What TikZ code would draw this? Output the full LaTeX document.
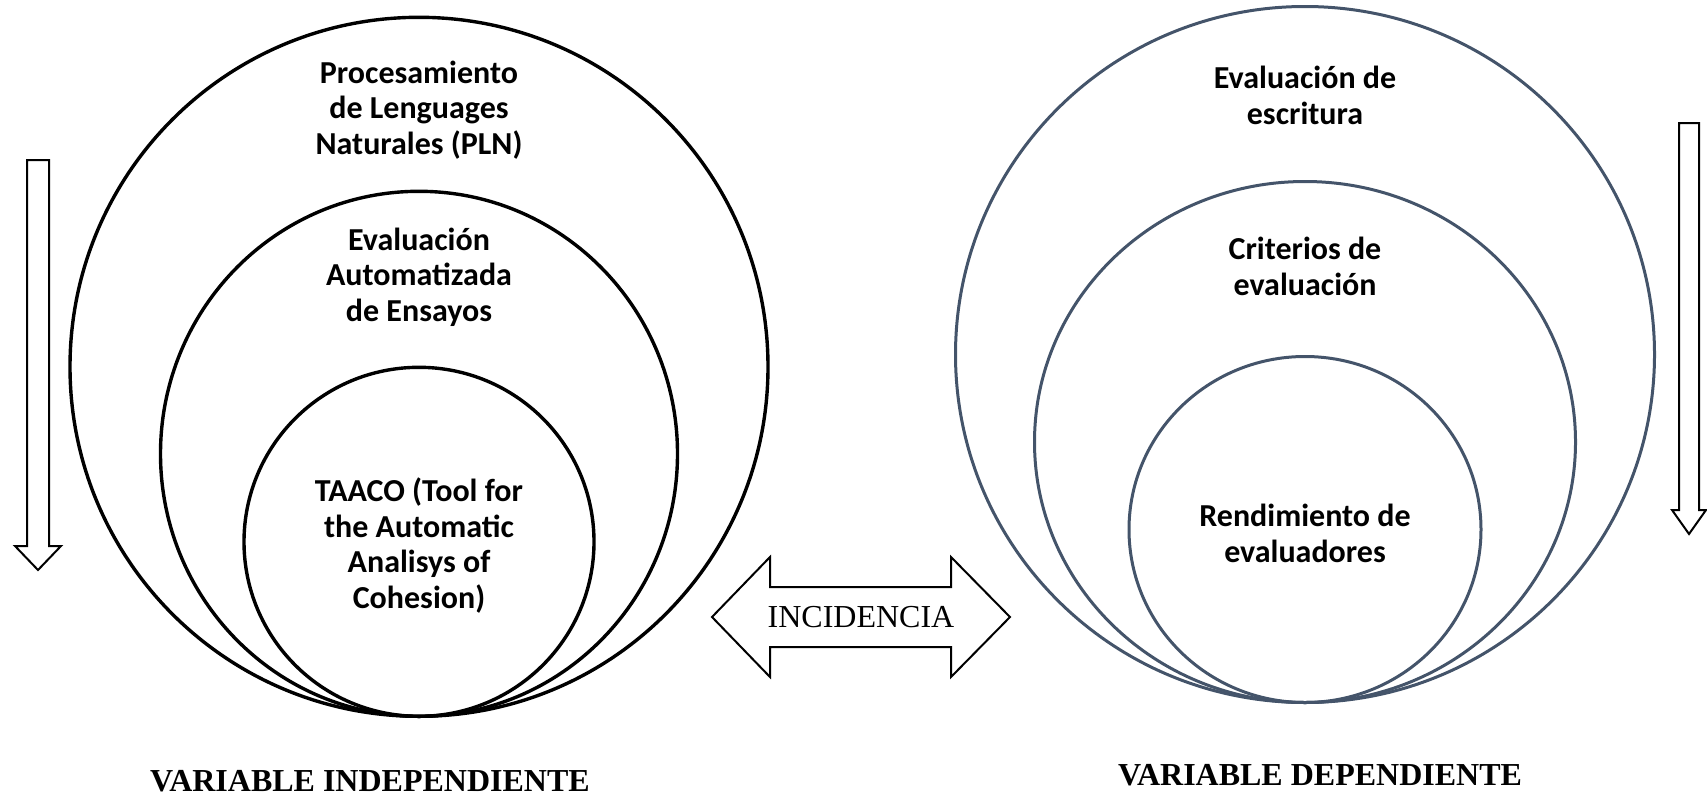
\documentclass[tikz,border=0pt]{standalone}
\usepackage{fontspec}
\setmainfont{Liberation Serif}
\newfontfamily\carlito{Carlito}
\usepackage{tikz}
\usetikzlibrary{shapes.geometric,positioning}
\usepackage{xcolor}
\definecolor{slategray}{RGB}{68,84,106}
\tikzset{
    ring/.style={ellipse, draw=#1, line width=3.4pt, inner sep=0pt, anchor=south},
    ringtxt/.style={font=\carlito\bfseries\fontsize{32}{35.5}\selectfont, align=center,
                    inner sep=0pt},
    vartxt/.style={font=\bfseries\fontsize{32}{36}\selectfont, inner sep=0pt},
    hollow/.style={draw, line width=2pt, fill=white, line join=miter},
}

\begin{document}
\begin{tikzpicture}[x=1pt, y=-1pt]
    \useasboundingbox (0,0) rectangle (1707,795);

    % variable independiente
    \coordinate (lbase) at (419,718);
    \node[ring=black, minimum width=698pt, minimum height=699pt] (louter) at (lbase) {};
    \node[ring=black, minimum width=517pt, minimum height=525pt] (lmid)   at (lbase) {};
    \node[ring=black, minimum width=350pt, minimum height=349pt] (linner) at (lbase) {};
    \node[ringtxt, below=45pt of louter.north]  (pln)   {Procesamiento\\de Lenguages\\Naturales (PLN)};
    \node[ringtxt, below=38pt of lmid.north]    (eae)   {Evaluación\\Automatizada\\de Ensayos};
    \node[ringtxt, below=112pt of linner.north] (taaco) {TAACO (Tool for\\the Automatic\\Analisys of\\Cohesion)};
    \node[vartxt] (vind) at (370,781) {VARIABLE INDEPENDIENTE};

    % variable dependiente
    \coordinate (rbase) at (1305,704);
    \node[ring=slategray, line width=3pt, minimum width=699pt, minimum height=696pt] (router) at (rbase) {};
    \node[ring=slategray, line width=3pt, minimum width=541pt, minimum height=521pt] (rmid)   at (rbase) {};
    \node[ring=slategray, line width=3pt, minimum width=352pt, minimum height=346pt] (rinner) at (rbase) {};
    \node[ringtxt, below=61pt of router.north]  (escr)  {Evaluación de\\escritura};
    \node[ringtxt, below=57pt of rmid.north]    (crit)  {Criterios de\\evaluación};
    \node[ringtxt, below=149pt of rinner.north] (rend)  {Rendimiento de\\evaluadores};
    \node[vartxt] (vdep) at (1320,775) {VARIABLE DEPENDIENTE};

    % flechas
    \draw[hollow] (27,160) -- (49,160) -- (49,546) -- (61,546) -- (38,570)
                  -- (15,546) -- (27,546) -- cycle;
    \draw[hollow] (1679,123) -- (1699,123) -- (1699,510) -- (1706,510) -- (1689,534)
                  -- (1672,510) -- (1679,510) -- cycle;
    \draw[hollow] (712,617) -- (770,557) -- (770,587) -- (951,587) -- (951,557)
                  -- (1010,617) -- (951,677) -- (951,647) -- (770,647) -- (770,677) -- cycle;
    \node[font=\fontsize{32}{36}\selectfont, inner sep=0pt] (incid) at (861,617) {INCIDENCIA};
\end{tikzpicture}
\end{document}
